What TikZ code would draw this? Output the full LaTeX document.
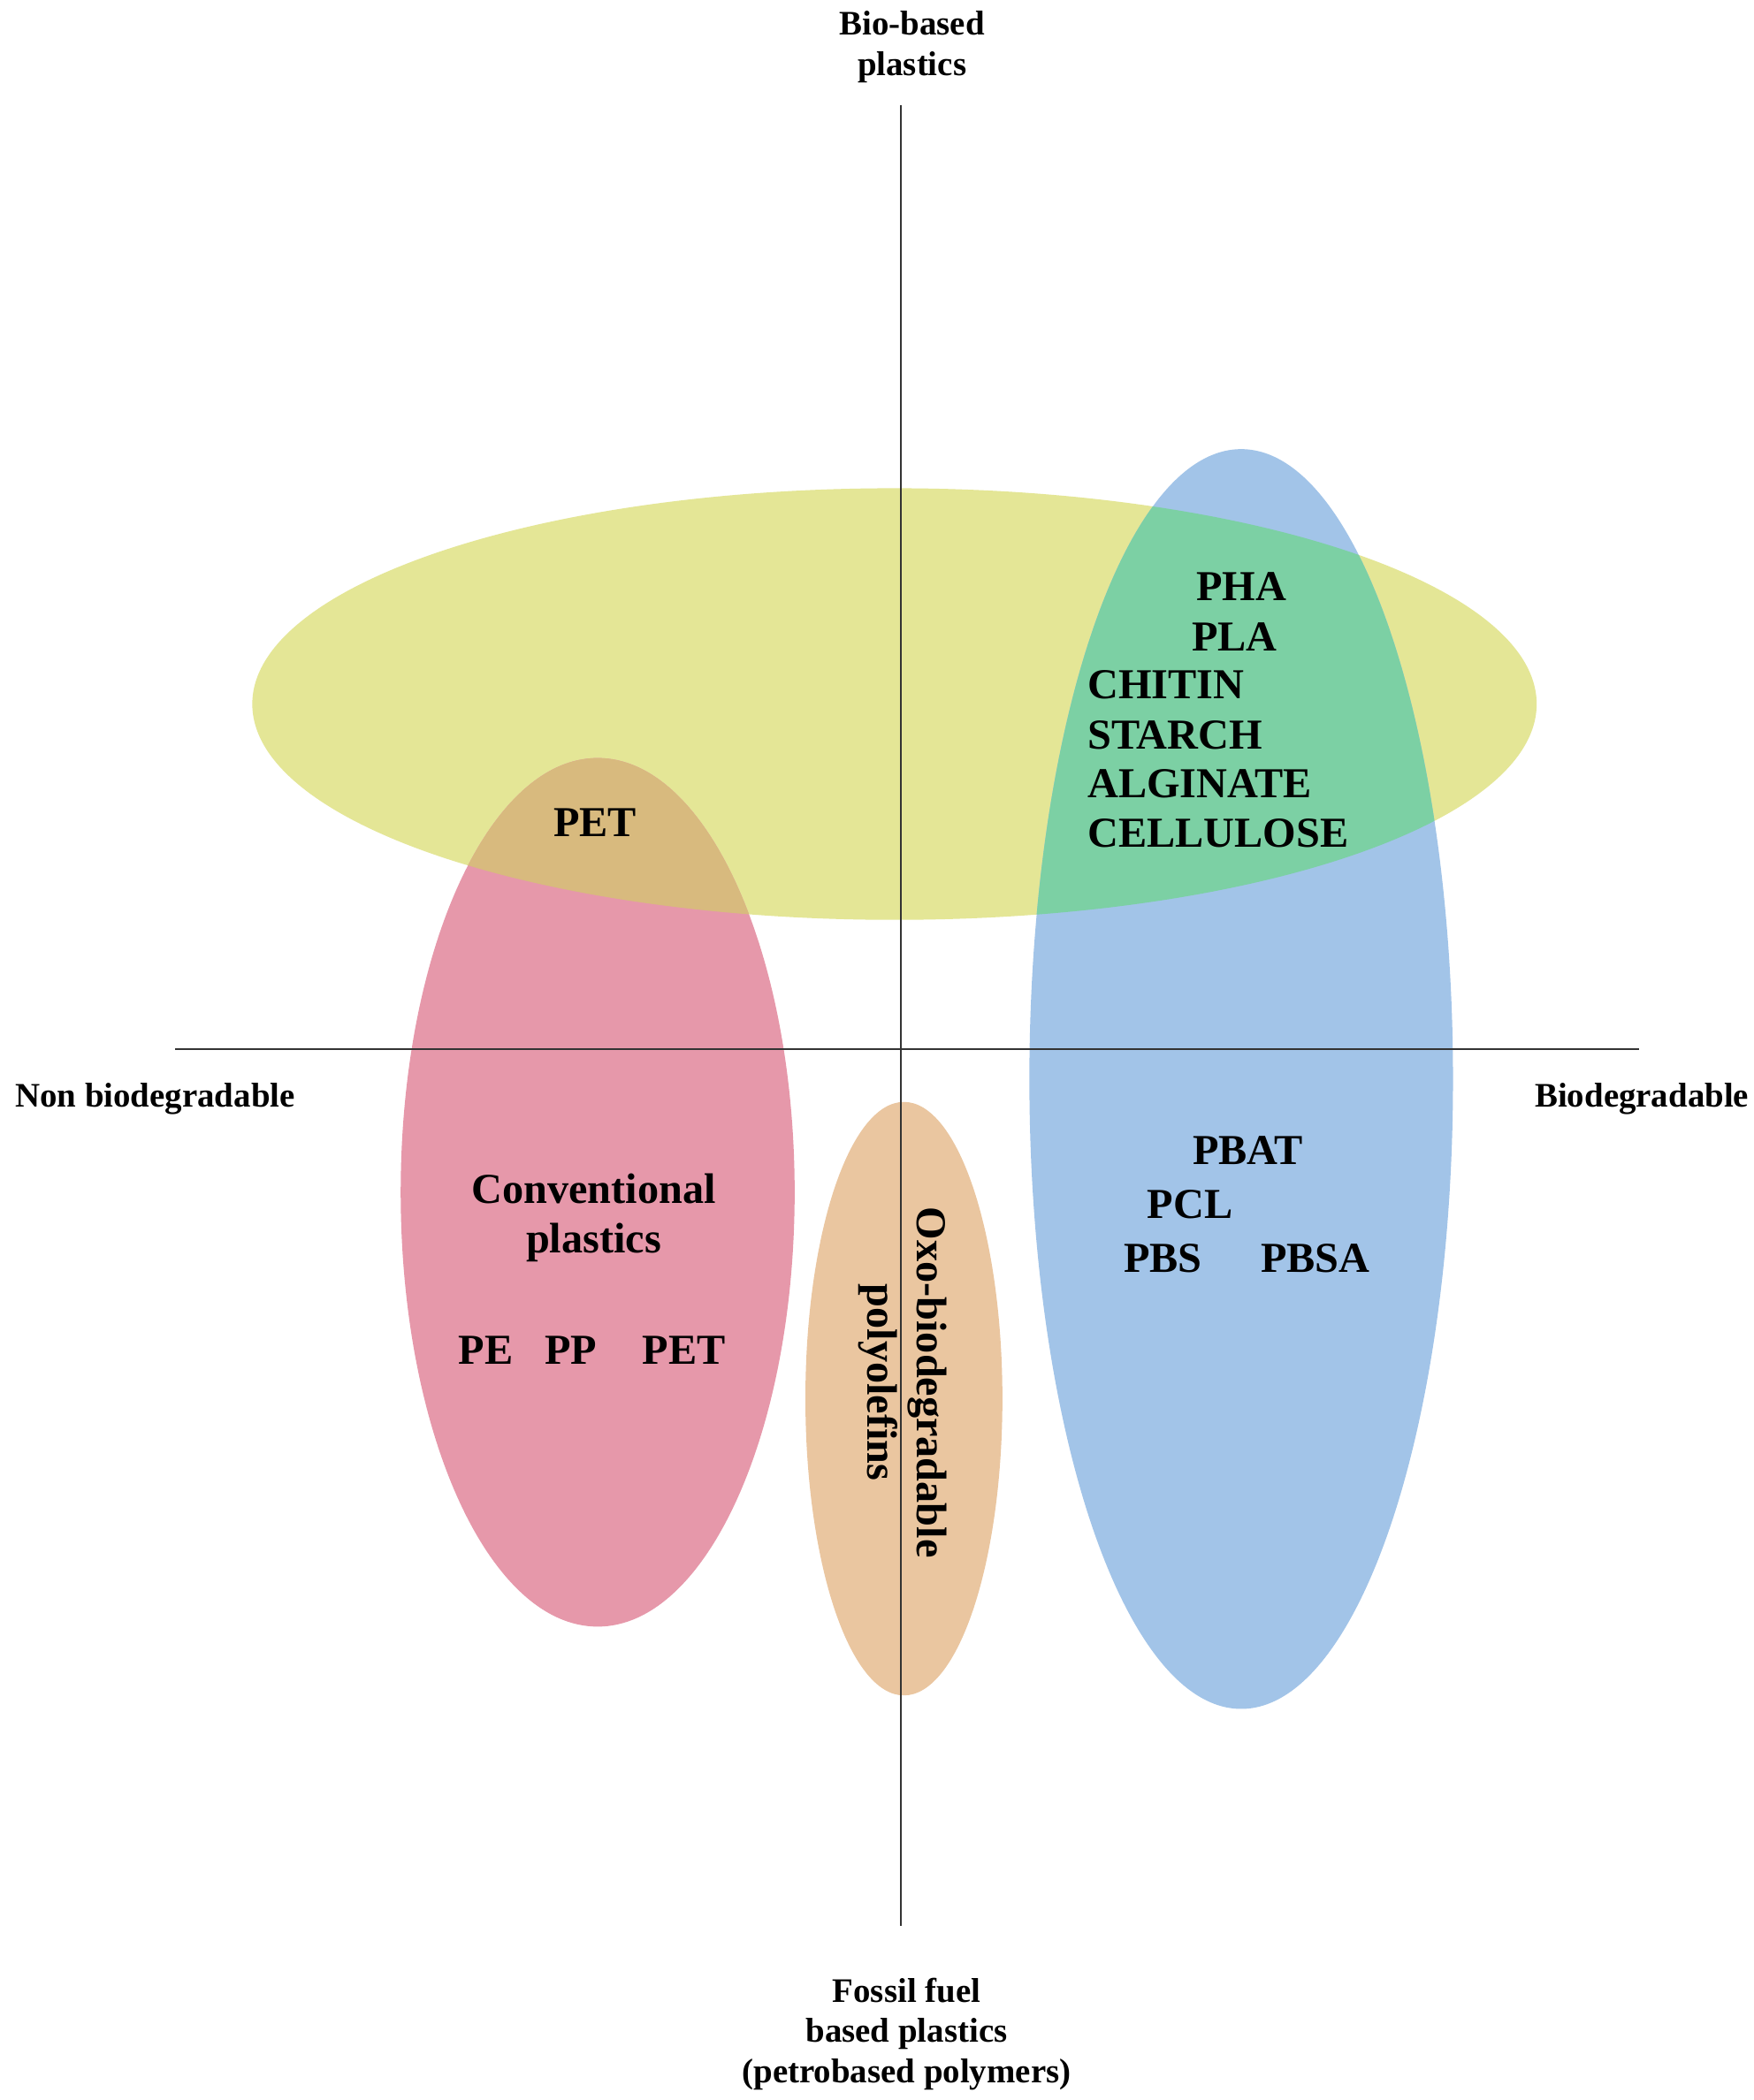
\documentclass[tikz,border=0pt]{standalone}
\usepackage{fontspec}
\setmainfont{Liberation Serif}
\begin{document}
\begin{tikzpicture}[x=0.02cm,y=-0.02cm,
  big/.style={font=\bfseries\fontsize{18}{21}\selectfont},
  small/.style={font=\bfseries\fontsize{14.5}{17}\selectfont,align=center},
  ax/.style={line width=0.8pt,black!80}]
\useasboundingbox[fill=white] (0,0) rectangle (1300,1557);
\definecolor{cy}{RGB}{228,230,150}
\definecolor{cb}{RGB}{162,196,232}
\definecolor{cp}{RGB}{230,152,170}
\definecolor{co}{RGB}{234,198,160}
\definecolor{cg}{RGB}{124,208,164}
\definecolor{ct}{RGB}{216,186,126}
\def\yel{(663,522) ellipse [x radius=476, y radius=160]}
\def\blu{(920,800) ellipse [x radius=157, y radius=467]}
\def\pin{(443,884) ellipse [x radius=146, y radius=322]}
\fill[cy] \yel;
\fill[cb] \blu;
\fill[cp] \pin;
\begin{scope}\clip \yel; \fill[cg] \blu; \fill[ct] \pin; \end{scope}
\fill[co] (670,1037) ellipse [x radius=73, y radius=220];
\coordinate (vt) at (668,78); \coordinate (vb) at (668,1428);
\coordinate (hl) at (130,778); \coordinate (hr) at (1215,778);
\draw[ax] (vt) -- (vb);
\draw[ax] (hl) -- (hr);
\node[small] (bio) at (676,35) {Bio-based\\plastics};
\node[small] (nb) at (115,815) {Non biodegradable};
\node[small] (bd) at (1217,815) {Biodegradable};
\node[small] (ff) at (672,1508) {Fossil fuel\\based plastics\\(petrobased polymers)};
\node[big] (pha) at (920,435) {PHA};
\node[big] (pla) at (915,472) {PLA};
\node[big,anchor=west] (chi) at (800,508) {CHITIN};
\node[big,anchor=west] (sta) at (800,545) {STARCH};
\node[big,anchor=west] (alg) at (800,581) {ALGINATE};
\node[big,anchor=west] (cel) at (800,618) {CELLULOSE};
\node[big] (pet1) at (441,610) {PET};
\node[big] (pbat) at (925,853) {PBAT};
\node[big] (pcl) at (882,893) {PCL};
\node[big] (pbs) at (862,933) {PBS};
\node[big] (pbsa) at (975,933) {PBSA};
\node[big,align=center] (conv) at (440,903) {Conventional\\plastics};
\node[big] (pe) at (360,1001) {PE};
\node[big] (pp) at (423,1001) {PP};
\node[big] (pet2) at (507,1001) {PET};
\node[big,align=center,rotate=-90] (oxo) at (669,1025) {Oxo-biodegradable\\polyolefins};
\end{tikzpicture}
\end{document}
